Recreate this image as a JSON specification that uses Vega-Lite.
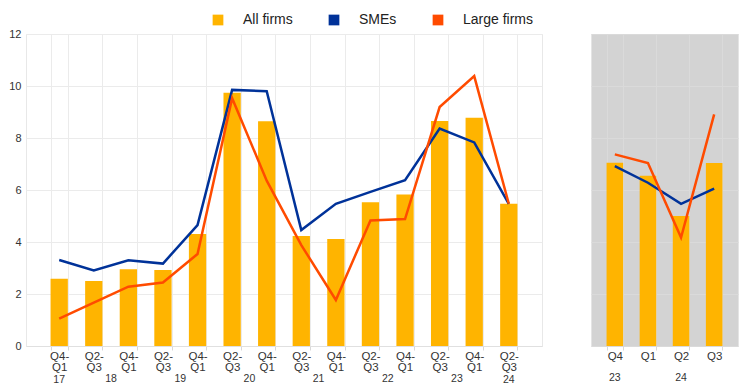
{
  "$schema": "https://vega.github.io/schema/vega-lite/v6.json",
  "background": "white",
  "padding": {"left": 8, "top": 13, "right": 5, "bottom": 5},
  "config": {
    "font": "Arial",
    "view": {"stroke": "#e8e8e8"},
    "axis": {"labelFont": "Arial", "labelColor": "#333333", "gridColor": "#ebebeb", "domainColor": "#e0e0e0", "tickColor": "#d8d8d8"},
    "legend": {"labelFont": "Arial"}
  },
  "datasets": {
    "left": [
      {"period": "2017 Q4-Q1", "all": 2.59, "sme": 3.31, "large": 1.05, "yr": "17"},
      {"period": "2018 Q2-Q3", "all": 2.50, "sme": 2.91, "large": 1.67, "yr": "18"},
      {"period": "2018 Q4-Q1", "all": 2.95, "sme": 3.30, "large": 2.28, "yr": ""},
      {"period": "2019 Q2-Q3", "all": 2.92, "sme": 3.17, "large": 2.44, "yr": "19"},
      {"period": "2019 Q4-Q1", "all": 4.31, "sme": 4.65, "large": 3.54, "yr": ""},
      {"period": "2020 Q2-Q3", "all": 9.74, "sme": 9.85, "large": 9.53, "yr": "20"},
      {"period": "2020 Q4-Q1", "all": 8.64, "sme": 9.80, "large": 6.36, "yr": ""},
      {"period": "2021 Q2-Q3", "all": 4.23, "sme": 4.46, "large": 3.88, "yr": "21"},
      {"period": "2021 Q4-Q1", "all": 4.12, "sme": 5.47, "large": 1.77, "yr": ""},
      {"period": "2022 Q2-Q3", "all": 5.53, "sme": 5.93, "large": 4.83, "yr": "22"},
      {"period": "2022 Q4-Q1", "all": 5.83, "sme": 6.38, "large": 4.88, "yr": ""},
      {"period": "2023 Q2-Q3", "all": 8.65, "sme": 8.36, "large": 9.19, "yr": "23"},
      {"period": "2023 Q4-Q1", "all": 8.78, "sme": 7.83, "large": 10.38, "yr": ""},
      {"period": "2024 Q2-Q3", "all": 5.47, "sme": 5.47, "large": 5.47, "yr": "24"}
    ],
    "right": [
      {"period": "2023 Q4", "all": 7.05, "sme": 6.92, "large": 7.37, "yr": "23"},
      {"period": "2024 Q1", "all": 6.55, "sme": 6.28, "large": 7.04, "yr": ""},
      {"period": "2024 Q2", "all": 5.00, "sme": 5.47, "large": 4.17, "yr": "24"},
      {"period": "2024 Q3", "all": 7.04, "sme": 6.05, "large": 8.91, "yr": ""}
    ]
  },
  "spacing": 47,
  "resolve": {"scale": {"color": "shared"}},
  "hconcat": [
    {
      "width": 516,
      "height": 312,
      "data": {"name": "left"},
      "encoding": {
        "x": {
          "field": "period", "type": "nominal", "sort": null, "title": null,
          "scale": {"paddingInner": 0.5, "paddingOuter": 0.71},
          "axis": {"labelExpr": "[slice(datum.label,5,8), slice(datum.label,8)]", "labelAngle": 0, "labelFontSize": 11.5, "labelLineHeight": 11.7, "labelPadding": 0, "tickSize": 4, "tickBand": "extent", "grid": true, "domain": true}
        }
      },
      "layer": [
        {
          "mark": {"type": "bar"},
          "encoding": {
            "y": {"field": "all", "type": "quantitative", "title": null, "scale": {"domain": [0, 12], "nice": false},
              "axis": {"values": [0, 2, 4, 6, 8, 10, 12], "labelFontSize": 11, "labelPadding": 5, "ticks": false, "domain": false, "grid": true}},
            "color": {"datum": "All firms", "type": "nominal",
              "scale": {"domain": ["All firms", "SMEs", "Large firms"], "range": ["#FFB400", "#003299", "#FF4B00"]},
              "legend": {"title": null, "orient": "none", "direction": "horizontal", "legendX": 185, "legendY": -21, "symbolType": "square", "symbolSize": 115, "symbolStrokeWidth": 0, "symbolOpacity": 1, "labelFontSize": 14, "labelColor": "#222222", "columnPadding": 34, "labelOffset": 18}}
          }
        },
        {
          "mark": {"type": "line", "strokeWidth": 2.5},
          "encoding": {"y": {"field": "sme", "type": "quantitative"}, "color": {"datum": "SMEs", "type": "nominal"}}
        },
        {
          "mark": {"type": "line", "strokeWidth": 2.5},
          "encoding": {"y": {"field": "large", "type": "quantitative"}, "color": {"datum": "Large firms", "type": "nominal"}}
        },
        {
          "transform": [{"filter": "datum.yr == '17' || datum.yr == '24'"}],
          "mark": {"type": "text", "fontSize": 10.5, "color": "#333333", "baseline": "middle"},
          "encoding": {"y": {"datum": -1.32, "type": "quantitative"}, "text": {"field": "yr"}}
        },
        {
          "transform": [{"filter": "datum.yr != '' && datum.yr != '17' && datum.yr != '24'"}],
          "mark": {"type": "text", "fontSize": 10.5, "color": "#333333", "baseline": "middle", "dx": 17.3},
          "encoding": {"y": {"datum": -1.25, "type": "quantitative"}, "text": {"field": "yr"}}
        }
      ]
    },
    {
      "width": 147,
      "height": 312,
      "view": {"fill": "#d3d3d3", "stroke": "#e4e4e4"},
      "data": {"name": "right"},
      "encoding": {
        "x": {
          "field": "period", "type": "nominal", "sort": null, "title": null,
          "scale": {"paddingInner": 0.5, "paddingOuter": 0.47},
          "axis": {"labelExpr": "slice(datum.label,5)", "labelAngle": 0, "labelFontSize": 11.5, "labelPadding": 0, "tickSize": 4, "tickBand": "extent", "grid": true, "gridColor": "#dadada", "domain": false}
        }
      },
      "layer": [
        {
          "mark": {"type": "bar"},
          "encoding": {
            "y": {"field": "all", "type": "quantitative", "title": null, "scale": {"domain": [0, 12], "nice": false},
              "axis": {"values": [0, 2, 4, 6, 8, 10, 12], "labels": false, "ticks": false, "domain": false, "grid": true, "gridColor": "#dadada"}},
            "color": {"datum": "All firms", "type": "nominal"}
          }
        },
        {
          "mark": {"type": "line", "strokeWidth": 2.5},
          "encoding": {"y": {"field": "sme", "type": "quantitative"}, "color": {"datum": "SMEs", "type": "nominal"}}
        },
        {
          "mark": {"type": "line", "strokeWidth": 2.5},
          "encoding": {"y": {"field": "large", "type": "quantitative"}, "color": {"datum": "Large firms", "type": "nominal"}}
        },
        {
          "transform": [{"filter": "datum.yr != ''"}],
          "mark": {"type": "text", "fontSize": 10.5, "color": "#333333", "baseline": "middle"},
          "encoding": {"y": {"datum": -1.23, "type": "quantitative"}, "text": {"field": "yr"}}
        }
      ]
    }
  ]
}
